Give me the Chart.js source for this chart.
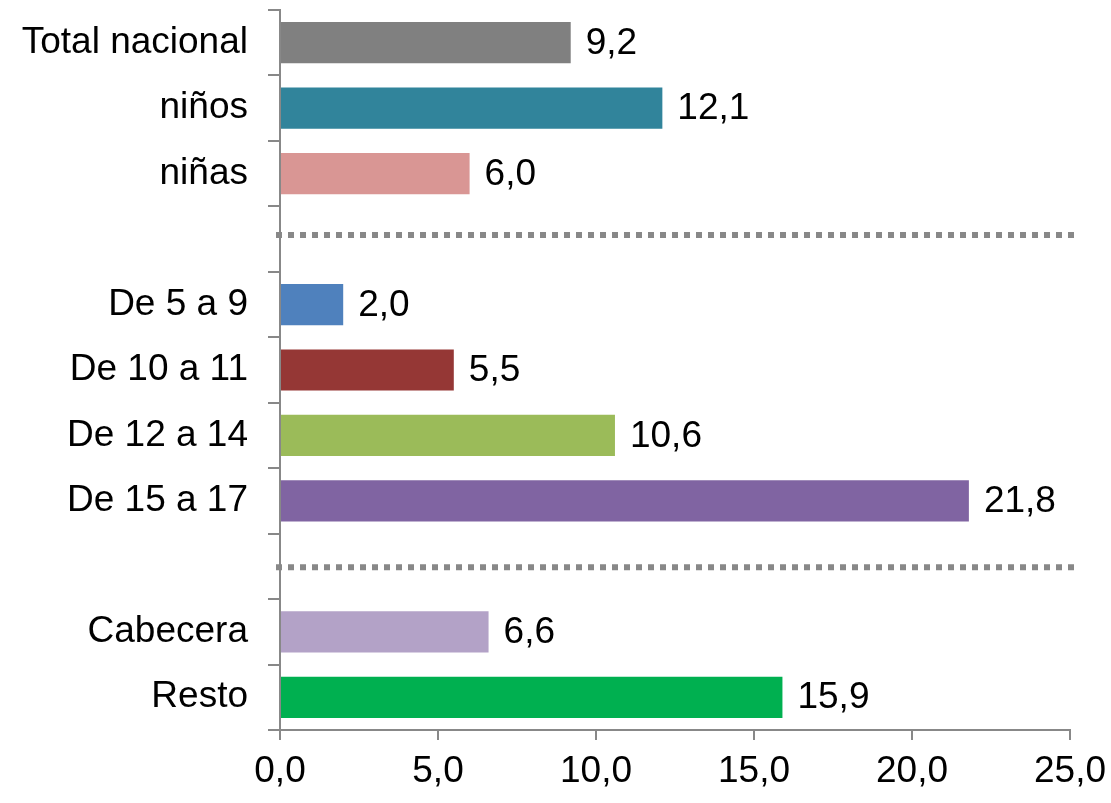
<!DOCTYPE html>
<html>
<head>
<meta charset="utf-8">
<script src="https://cdn.jsdelivr.net/npm/chart.js@4"></script>
<style>
  html, body { margin: 0; padding: 0; background: #fff; }
  #wrap { width: 1111px; height: 803px; }
</style>
</head>
<body>
<div id="wrap"><canvas id="chart"></canvas></div>
<script>
// blank slots hold the dotted separators
const categories = ["Total nacional", "niños", "niñas", "", "De 5 a 9", "De 10 a 11", "De 12 a 14", "De 15 a 17", "", "Cabecera", "Resto"];
const values = [9.2, 12.1, 6.0, null, 2.0, 5.5, 10.6, 21.8, null, 6.6, 15.9];
const barColors = ["#808080", "#31849B", "#D99694", "#ffffff", "#4F81BD", "#953735", "#9BBB59", "#8064A2", "#ffffff", "#B3A2C7", "#00B050"];
const separatorSlots = [3, 8];
const xTicks = [0, 5, 10, 15, 20, 25];

const FONT = "'Liberation Sans', Arial, sans-serif";
const fmt = v => v.toFixed(1).replace(".", ",");

const valueLabels = {
  id: "valueLabels",
  afterDatasetsDraw(chart) {
    const ctx = chart.ctx;
    const meta = chart.getDatasetMeta(0);
    ctx.save();
    ctx.font = "37px " + FONT;
    ctx.fillStyle = "#000";
    ctx.textAlign = "left";
    ctx.textBaseline = "middle";
    meta.data.forEach((bar, i) => {
      if (values[i] == null) return;
      ctx.fillText(fmt(values[i]), bar.x + 15, bar.y + 1);
    });
    ctx.restore();
  }
};

const separators = {
  id: "separators",
  afterDatasetsDraw(chart) {
    const ctx = chart.ctx;
    const y = chart.scales.y;
    const area = chart.chartArea;
    const nudge = [-4, 1];
    ctx.save();
    ctx.strokeStyle = "#888";
    ctx.lineWidth = 6;
    ctx.setLineDash([6, 6]);
    separatorSlots.forEach((i, k) => {
      const py = y.getPixelForValue(i) + nudge[k];
      ctx.beginPath();
      ctx.moveTo(area.left - 4, py);
      ctx.lineTo(area.right + 4, py);
      ctx.stroke();
    });
    ctx.restore();
  }
};

new Chart(document.getElementById("chart"), {
  type: "bar",
  data: {
    labels: categories,
    datasets: [{
      data: values,
      backgroundColor: barColors,
      barPercentage: 0.63,
      categoryPercentage: 1
    }]
  },
  plugins: [valueLabels, separators],
  options: {
    indexAxis: "y",
    responsive: true,
    maintainAspectRatio: false,
    animation: false,
    layout: { padding: { top: 10, right: 41, left: 0, bottom: 0 } },
    plugins: {
      legend: { display: false },
      tooltip: { enabled: false }
    },
    scales: {
      x: {
        min: 0,
        max: 25,
        afterBuildTicks: s => { s.ticks = xTicks.map(v => ({ value: v })); },
        afterFit: s => { s.height = 73; s.paddingLeft = 0; s.paddingRight = 0; },
        grid: { drawOnChartArea: false, color: "#888", lineWidth: 2, tickLength: 10 },
        border: { color: "#888", width: 2 },
        ticks: {
          callback: v => fmt(v),
          color: "#000",
          padding: 10,
          maxRotation: 0,
          font: { family: FONT, size: 37 }
        }
      },
      y: {
        afterFit: s => { s.width = 280; s.paddingTop = 0; s.paddingBottom = 0; },
        grid: { drawOnChartArea: false, offset: true, color: "#888", lineWidth: 2, tickLength: 12 },
        border: { color: "#888", width: 2 },
        ticks: {
          color: "#000",
          padding: 20,
          font: { family: FONT, size: 37 }
        }
      }
    }
  }
});
</script>
</body>
</html>
